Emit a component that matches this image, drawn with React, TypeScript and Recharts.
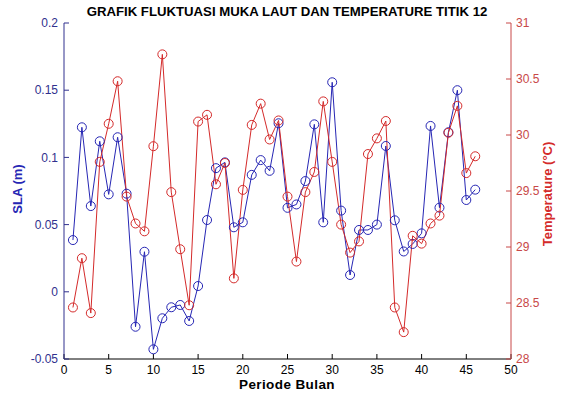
import React from 'react';
import { ComposedChart, Line, XAxis, YAxis } from 'recharts';

// Monthly sea level anomaly (m) and temperature (°C) at station 12.
const PERIODE = [
  1, 2, 3, 4, 5, 6, 7, 8, 9, 10, 11, 12, 13, 14, 15, 16, 17, 18, 19, 20, 21, 22, 23,
  24, 25, 26, 27, 28, 29, 30, 31, 32, 33, 34, 35, 36, 37, 38, 39, 40, 41, 42, 43, 44, 45, 46,
];
const SLA = [
  0.0385, 0.1224, 0.0638, 0.112, 0.0725, 0.115, 0.073, -0.026, 0.0298, -0.0428,
  -0.0197, -0.0115, -0.0098, -0.0217, 0.0043, 0.0534, 0.092, 0.0963, 0.048, 0.0517,
  0.087, 0.098, 0.09, 0.1254, 0.0625, 0.065, 0.0824, 0.1246, 0.0517, 0.1559,
  0.0604, 0.0125, 0.046, 0.046, 0.05, 0.1085, 0.0532, 0.03, 0.0356, 0.0435,
  0.1234, 0.0626, 0.1187, 0.15, 0.0683, 0.076,
];
const TEMP = [
  28.46, 28.9, 28.41, 29.76, 30.1, 30.48, 29.45, 29.21, 29.14, 29.9,
  30.72, 29.49, 28.98, 28.48, 30.12, 30.18, 29.56, 29.75, 28.72, 29.51,
  30.09, 30.28, 29.96, 30.13, 29.45, 28.87, 29.49, 29.67, 30.3, 29.76,
  29.2, 28.95, 29.05, 29.83, 29.97, 30.125, 28.46, 28.24, 29.1, 29.03,
  29.21, 29.28, 30.02, 30.26, 29.66, 29.81,
];
const X_TICKS = [0, 5, 10, 15, 20, 25, 30, 35, 40, 45, 50];
const SLA_TICKS = [-0.05, 0, 0.05, 0.1, 0.15, 0.2];
const TEMP_TICKS = [28, 28.5, 29, 29.5, 30, 30.5, 31];

const W = 566;
const H = 394;
const BLUE = '#2626b4';
const RED = '#d42a2a';
const BLUE_AXIS = '#30308e';
const RED_AXIS = '#c84848';
const FONT = '"Liberation Sans", Arial, Helvetica, sans-serif';

const data = PERIODE.map((x, i) => ({ x, sla: SLA[i], temp: TEMP[i] }));

const fmt = (v: number) => String(Math.round(v * 1000) / 1000);

export default function App() {
  return (
    <div style={{ position: 'absolute', left: 0, top: 0, width: W, height: H, background: '#fff' }}>
      <ComposedChart width={W} height={H} data={data} margin={{ top: 23, right: 0, bottom: 0, left: 0 }}>
        <XAxis
          dataKey="x"
          type="number"
          domain={[0, 50]}
          ticks={X_TICKS}
          height={35}
          tickSize={-5}
          tickMargin={11}
          stroke="#000"
          tick={{ fill: '#000', fontSize: 12, fontFamily: FONT }}
        />
        <YAxis
          yAxisId="sla"
          orientation="left"
          domain={[-0.05, 0.2]}
          ticks={SLA_TICKS}
          tickFormatter={fmt}
          width={64}
          tickSize={-5}
          tickMargin={11}
          stroke={BLUE_AXIS}
          tick={{ fill: BLUE_AXIS, fontSize: 12, fontFamily: FONT }}
        />
        <YAxis
          yAxisId="temp"
          orientation="right"
          domain={[28, 31]}
          ticks={TEMP_TICKS}
          tickFormatter={fmt}
          width={55}
          tickSize={-5}
          tickMargin={10}
          stroke={RED_AXIS}
          tick={{ fill: RED_AXIS, fontSize: 12, fontFamily: FONT }}
        />
        <Line
          yAxisId="sla"
          dataKey="sla"
          type="linear"
          stroke={BLUE}
          strokeWidth={1}
          dot={{ r: 4.5, fill: 'none', stroke: BLUE, strokeWidth: 1 }}
          activeDot={false}
          isAnimationActive={false}
        />
        <Line
          yAxisId="temp"
          dataKey="temp"
          type="linear"
          stroke={RED}
          strokeWidth={1}
          dot={{ r: 4.5, fill: 'none', stroke: RED, strokeWidth: 1 }}
          activeDot={false}
          isAnimationActive={false}
        />
      </ComposedChart>
      {/* title and axis captions */}
      <svg width={W} height={H} style={{ position: 'absolute', left: 0, top: 0, pointerEvents: 'none' }}>
        <text x={287} y={16} textAnchor="middle" fontFamily={FONT} fontWeight="bold" fontSize={13.2} fill="#000">
          GRAFIK FLUKTUASI MUKA LAUT DAN TEMPERATURE TITIK 12
        </text>
        <text x={287} y={389} textAnchor="middle" fontFamily={FONT} fontWeight="bold" fontSize={13.5} letterSpacing={0.4} fill="#000">
          Periode Bulan
        </text>
        <text x={22} y={189} textAnchor="middle" transform="rotate(-90 22 189)" fontFamily={FONT} fontWeight="bold" fontSize={13} fill={BLUE}>
          SLA (m)
        </text>
        <text x={552} y={194} textAnchor="middle" transform="rotate(-90 552 194)" fontFamily={FONT} fontWeight="bold" fontSize={13} fill={RED}>
          Temperature (°C)
        </text>
      </svg>
    </div>
  );
}
